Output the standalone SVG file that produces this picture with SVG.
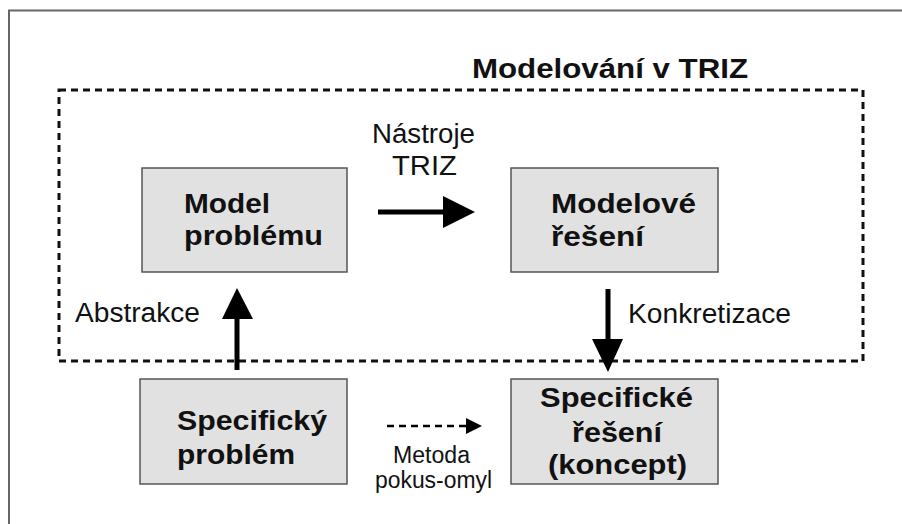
<svg xmlns="http://www.w3.org/2000/svg" width="902" height="524" viewBox="0 0 902 524">
<defs>
<style>
.frame{fill:none;stroke:#666;stroke-width:2}
.region{fill:none;stroke:#111;stroke-width:3;stroke-dasharray:7 5}
.box{fill:#e1e1e1;stroke:#555;stroke-width:1.5}
.b{font-family:"Liberation Sans",Arial,sans-serif;font-weight:bold;font-size:28px;fill:#111}
.r{font-family:"Liberation Sans",Arial,sans-serif;font-size:27px;fill:#111}
.s{font-family:"Liberation Sans",Arial,sans-serif;font-size:23px;fill:#111}
.thick{stroke:#000;stroke-width:5;fill:none}
.dash{stroke:#000;stroke-width:2.5;stroke-dasharray:7 5;fill:none}
.head{fill:#000}
</style>
</defs>
<rect width="902" height="524" fill="#fff"/>
<path class="frame" d="M9,524 V10.5 H902"/>
<g id="region">
<rect class="region" x="59" y="90" width="804" height="271"/>
<text class="b" x="472" y="78" textLength="276" lengthAdjust="spacingAndGlyphs">Modelování v TRIZ</text>
</g>
<g id="model-problemu">
<rect class="box" x="142" y="168" width="205" height="104"/>
<text class="b" x="184" y="213" textLength="86" lengthAdjust="spacingAndGlyphs">Model</text>
<text class="b" x="184" y="245" textLength="139" lengthAdjust="spacingAndGlyphs">problému</text>
</g>
<g id="modelove-reseni">
<rect class="box" x="511" y="168" width="207" height="104"/>
<text class="b" x="551" y="213" textLength="145" lengthAdjust="spacingAndGlyphs">Modelové</text>
<text class="b" x="551" y="246" textLength="93" lengthAdjust="spacingAndGlyphs">řešení</text>
</g>
<g id="specificky-problem">
<rect class="box" x="140" y="379" width="207" height="105"/>
<text class="b" x="177" y="430" textLength="150" lengthAdjust="spacingAndGlyphs">Specifický</text>
<text class="b" x="177" y="464" textLength="118" lengthAdjust="spacingAndGlyphs">problém</text>
</g>
<g id="specificke-reseni">
<rect class="box" x="511" y="379" width="207" height="105"/>
<text class="b" x="540" y="407" textLength="153" lengthAdjust="spacingAndGlyphs">Specifické</text>
<text class="b" x="572" y="442" textLength="90" lengthAdjust="spacingAndGlyphs">řešení</text>
<text class="b" x="548" y="474" textLength="139" lengthAdjust="spacingAndGlyphs">(koncept)</text>
</g>
<g id="connectors">
<line class="thick" x1="378" y1="212" x2="445" y2="212"/>
<polygon class="head" points="443,196 475,212 443,228"/>
<text class="r" x="372" y="143" textLength="103" lengthAdjust="spacingAndGlyphs">Nástroje</text>
<text class="r" x="392" y="175" textLength="65" lengthAdjust="spacingAndGlyphs">TRIZ</text>
<line class="thick" x1="237" y1="370" x2="237" y2="317"/>
<polygon class="head" points="222,319 237,288 253,319"/>
<text class="r" x="75" y="322" textLength="125" lengthAdjust="spacingAndGlyphs">Abstrakce</text>
<line class="thick" x1="608" y1="289" x2="608" y2="341"/>
<polygon class="head" points="592,339 623,339 608,372"/>
<text class="r" x="628" y="323" textLength="163" lengthAdjust="spacingAndGlyphs">Konkretizace</text>
<line class="dash" x1="387" y1="426" x2="466" y2="426"/>
<polygon class="head" points="466,418 482,426 466,434"/>
<text class="s" x="393" y="463" textLength="77" lengthAdjust="spacingAndGlyphs">Metoda</text>
<text class="s" x="375" y="488" textLength="117" lengthAdjust="spacingAndGlyphs">pokus-omyl</text>
</g>
</svg>
